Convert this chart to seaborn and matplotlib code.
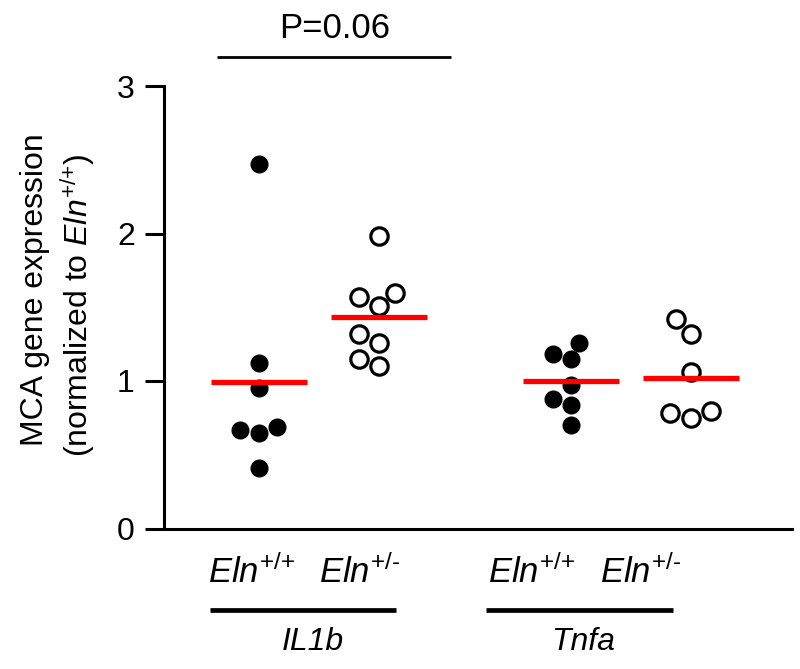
import numpy as np
import pandas as pd
import matplotlib
matplotlib.use("Agg")
import matplotlib.pyplot as plt
import seaborn as sns

# ---- data ----
genes = ["IL1b", "Tnfa"]
genotypes = ["+/+", "+/-"]
il1b_wt = [2.47, 1.12, 0.95, 0.69, 0.67, 0.65, 0.41]
il1b_het = [1.98, 1.60, 1.57, 1.51, 1.32, 1.26, 1.15, 1.10]
tnfa_wt = [1.26, 1.18, 1.15, 0.97, 0.88, 0.84, 0.70]
tnfa_het = [1.42, 1.32, 1.06, 0.80, 0.78, 0.75]
p_text = "P=0.06"
y_ticks = [0, 1, 2, 3]

# ---- layout ----
group_pos = {"IL1b": 0.0, "Tnfa": 2.6}
geno_off = {"+/+": 0.0, "+/-": 1.0}

rows = []
for gene, geno, vals in [("IL1b", "+/+", il1b_wt), ("IL1b", "+/-", il1b_het),
                         ("Tnfa", "+/+", tnfa_wt), ("Tnfa", "+/-", tnfa_het)]:
    for v in vals:
        rows.append({"gene": gene, "genotype": geno, "value": v,
                     "x": group_pos[gene] + geno_off[geno]})
df = pd.DataFrame(rows)

sns.set_theme(style="white")
plt.rcParams["font.family"] = ["Liberation Sans", "DejaVu Sans"]
plt.rcParams["mathtext.fontset"] = "custom"
plt.rcParams["mathtext.rm"] = "Liberation Sans"
plt.rcParams["mathtext.it"] = "Liberation Sans:italic"
plt.rcParams["mathtext.bf"] = "Liberation Sans:bold"
for key in ["text.color", "axes.labelcolor", "xtick.color", "ytick.color",
            "axes.edgecolor"]:
    plt.rcParams[key] = "black"

W, H = 800, 669
fig = plt.figure(figsize=(8, 6.69), dpi=100)
ax = fig.add_axes([164 / W, (H - 528.5) / H, (792 - 164) / W, (528.5 - 86) / H])

wt = df[df.genotype == "+/+"]
het = df[df.genotype == "+/-"]
sns.swarmplot(data=wt, x="x", y="value", native_scale=True, color="black",
              size=13, linewidth=0, ax=ax)
sns.swarmplot(data=het, x="x", y="value", native_scale=True, color="white",
              edgecolor="black", linewidth=2.3, size=12.5, ax=ax)

# mean lines
means = df.groupby(["gene", "genotype"])["value"].mean()
for (gene, geno), m in means.items():
    xc = group_pos[gene] + geno_off[geno]
    ax.hlines(m, xc - 0.4, xc + 0.4, color="#ff0000", lw=3.8, zorder=5)

ax.set_xlim(-0.79, 4.44)
ax.set_ylim(0, 3)
ax.set_yticks(y_ticks)
ax.set_yticklabels([str(t) for t in y_ticks])
ax.set_xticks([])
ax.set_xlabel("")
ax.set_ylabel("")
for s in ["top", "right"]:
    ax.spines[s].set_visible(False)
for s in ["left", "bottom"]:
    ax.spines[s].set_linewidth(2.2)
    ax.spines[s].set_color("black")
ax.tick_params(axis="y", direction="out", length=14, width=2.2, labelsize=23,
               pad=7, colors="black", left=True)

# x category labels
lab_x = [-0.06, 0.84, 2.27, 3.18]
k = 0
for gene in genes:
    for geno in genotypes:
        ax.text(lab_x[k], -0.37, r"$\mathit{Eln}^{\text{" + geno + "}}$",
                ha="center", va="baseline", fontsize=25, clip_on=False,
                color="black")
        k += 1

# group lines and names
grp_line = {"IL1b": (-0.408, 1.142), "Tnfa": (1.892, 3.45)}
grp_text_x = {"IL1b": 0.45, "Tnfa": 2.70}
for gene in genes:
    x0, x1 = grp_line[gene]
    ax.plot([x0, x1], [-0.5525, -0.5525], color="black", lw=3.4,
            clip_on=False, solid_capstyle="butt")
    ax.text(grp_text_x[gene], -0.824, gene, ha="center", va="baseline",
            fontsize=23, style="italic", clip_on=False, color="black")

# significance bar
ax.plot([-0.3525, 1.604], [3.197, 3.197], color="black", lw=2.0,
        clip_on=False, solid_capstyle="butt")
ax.text(0.63, 3.323, p_text, ha="center", va="baseline", fontsize=25,
        clip_on=False, color="black")

# y label (two lines)
fig.text(43 / W, 1 - 290 / H, "MCA gene expression", rotation=90,
         rotation_mode="anchor", ha="center", va="baseline", fontsize=23,
         color="black")
fig.text(88 / W, 1 - 305 / H, r"(normalized to $\mathit{Eln}^{\text{+/+}}$)",
         rotation=90, rotation_mode="anchor", ha="center", va="baseline",
         fontsize=23, color="black")

fig.savefig("out.png", dpi=100)
